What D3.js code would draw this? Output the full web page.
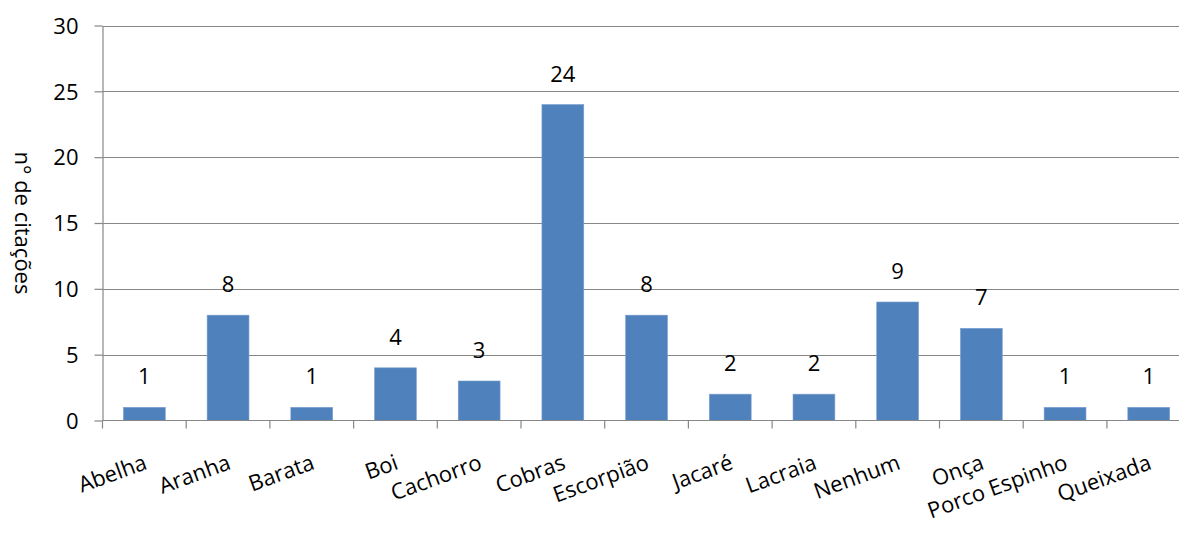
<!DOCTYPE html>
<html>
<head>
<meta charset="utf-8">
<script src="https://cdn.jsdelivr.net/npm/d3@7"></script>
<style>
  html, body { margin: 0; padding: 0; background: #fff; overflow: hidden; }
  text { font-family: "Open Sans", "Noto Sans", sans-serif; fill: #000; }
</style>
</head>
<body>
<svg id="chart" width="1179" height="534"></svg>
<script>
// Animais citados e número de citações
const categories = ["Abelha", "Aranha", "Barata", "Boi", "Cachorro", "Cobras", "Escorpião",
                    "Jacaré", "Lacraia", "Nenhum", "Onça", "Porco Espinho", "Queixada"];
const values = [1, 8, 1, 4, 3, 24, 8, 2, 2, 9, 7, 1, 1];
const yTicks = [0, 5, 10, 15, 20, 25, 30];
const yTitle = "n° de citações";

const svg = d3.select("#chart");
const plotLeft = 102.5, plotTop = 25.5, plotBottom = 420.5;
const step = 83.7;
const plotRight = plotLeft + step * categories.length;
const fontSize = 22;

const x = d3.scaleBand().domain(categories).range([plotLeft, plotRight]).paddingInner(0.5).paddingOuter(0.25);
const y = d3.scaleLinear().domain([0, 30]).range([plotBottom, plotTop]);

// Gridlines
svg.append("g").selectAll("line").data(yTicks.filter(d => d > 0)).join("line")
  .attr("x1", plotLeft).attr("x2", plotRight)
  .attr("y1", d => Math.round(y(d)) + 0.5).attr("y2", d => Math.round(y(d)) + 0.5)
  .attr("stroke", "#878787").attr("stroke-width", 1.2);

// Bars
svg.append("g").selectAll("rect").data(values).join("rect")
  .attr("x", (d, i) => x(categories[i]))
  .attr("width", x.bandwidth())
  .attr("y", d => y(d))
  .attr("height", d => y(0) - y(d))
  .attr("fill", "#4F81BD")
  .attr("stroke", "#7aa0d2").attr("stroke-width", 0.6);

// Y axis
const yAxis = d3.axisLeft(y).tickValues(yTicks).tickSize(8).tickPadding(16).tickSizeOuter(0);
const gy = svg.append("g").attr("transform", `translate(${plotLeft},0)`).call(yAxis);
gy.select(".domain").attr("stroke", "#878787").attr("stroke-width", 1.2);
gy.selectAll(".tick line").attr("stroke", "#878787").attr("stroke-width", 1.2);
gy.selectAll(".tick text").attr("font-size", fontSize).attr("dy", "0.35em")
  .style("font-family", '"Open Sans", sans-serif');

// X axis with boundary tick marks
const gx = svg.append("g");
gx.append("line").attr("x1", plotLeft).attr("x2", plotRight).attr("y1", plotBottom).attr("y2", plotBottom)
  .attr("stroke", "#878787").attr("stroke-width", 1.2);
gx.selectAll("line.tk").data(d3.range(categories.length + 1)).join("line").attr("class", "tk")
  .attr("x1", i => plotLeft + i * step).attr("x2", i => plotLeft + i * step)
  .attr("y1", plotBottom).attr("y2", plotBottom + 8)
  .attr("stroke", "#878787").attr("stroke-width", 1.2);

// Category labels, rotated
gx.selectAll("text").data(categories).join("text")
  .attr("transform", d => `translate(${x(d) + x.bandwidth() / 2 + 4},${plotBottom + 48}) rotate(-20)`)
  .attr("text-anchor", "end")
  .attr("font-size", fontSize)
  .text(d => d);

// Value labels
svg.append("g").selectAll("text").data(values).join("text")
  .attr("x", (d, i) => x(categories[i]) + x.bandwidth() / 2)
  .attr("y", d => y(d) - 23)
  .attr("text-anchor", "middle")
  .attr("font-size", fontSize)
  .text(d => d);

// Y axis title
svg.append("text")
  .attr("transform", `translate(15,${(plotTop + plotBottom) / 2}) rotate(90)`)
  .attr("text-anchor", "middle")
  .attr("font-size", fontSize)
  .text(yTitle);
</script>
</body>
</html>
